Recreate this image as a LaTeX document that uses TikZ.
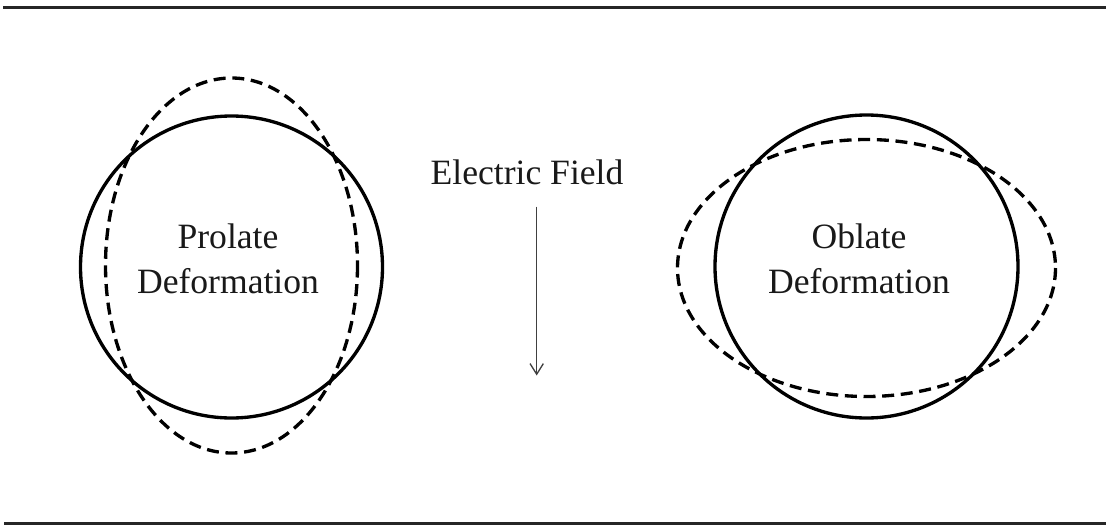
\documentclass[tikz,border=0pt]{standalone}
\usepackage{fontspec}
\setmainfont{Liberation Serif}
\usetikzlibrary{arrows.meta}
\begin{document}
\begin{tikzpicture}[x=0.75pt,y=-0.75pt,
  rule/.style={line width=1.6pt,black!85},
  drop/.style={line width=2.5pt,black},
  deformed/.style={line width=2.5pt,black,dash pattern=on 9pt off 5pt},
  label/.style={font=\fontsize{26.7}{33.7}\selectfont,align=center,text=black!90,inner sep=0pt},
  field/.style={line width=1pt,black!75,-{Straight Barb[length=8pt,width=10pt,line width=1pt]}}]
\useasboundingbox (0,0) rectangle (1106,525);
\fill[white] (0,0) rectangle (1106,525);
% frame rules
\coordinate (tl) at (3,7.5);   \coordinate (tr) at (1106,7.5);
\coordinate (bl) at (4,523.5); \coordinate (br) at (1106,523.5);
\draw[rule] (tl) -- (tr);
\draw[rule] (bl) -- (br);
% prolate drop
\coordinate (pc) at (231.5,267);
\draw[drop] (pc) circle [radius=151];
\draw[deformed] (231.5,265.5) ellipse [x radius=126, y radius=187.5];
\node[label] (prolate) at (228,259) {Prolate\\Deformation};
% oblate drop
\coordinate (oc) at (866.5,266.5);
\draw[drop] (oc) circle [radius=151.5];
\draw[deformed] (866.5,268) ellipse [x radius=189, y radius=128.5];
\node[label] (oblate) at (859,259) {Oblate\\Deformation};
% field direction
\node[label] (efield) at (527,172) {Electric Field};
\coordinate (ftop) at (536.7,206.5);
\coordinate (fbot) at (536.7,375.5);
\draw[field] (ftop) -- (fbot);
\end{tikzpicture}
\end{document}
